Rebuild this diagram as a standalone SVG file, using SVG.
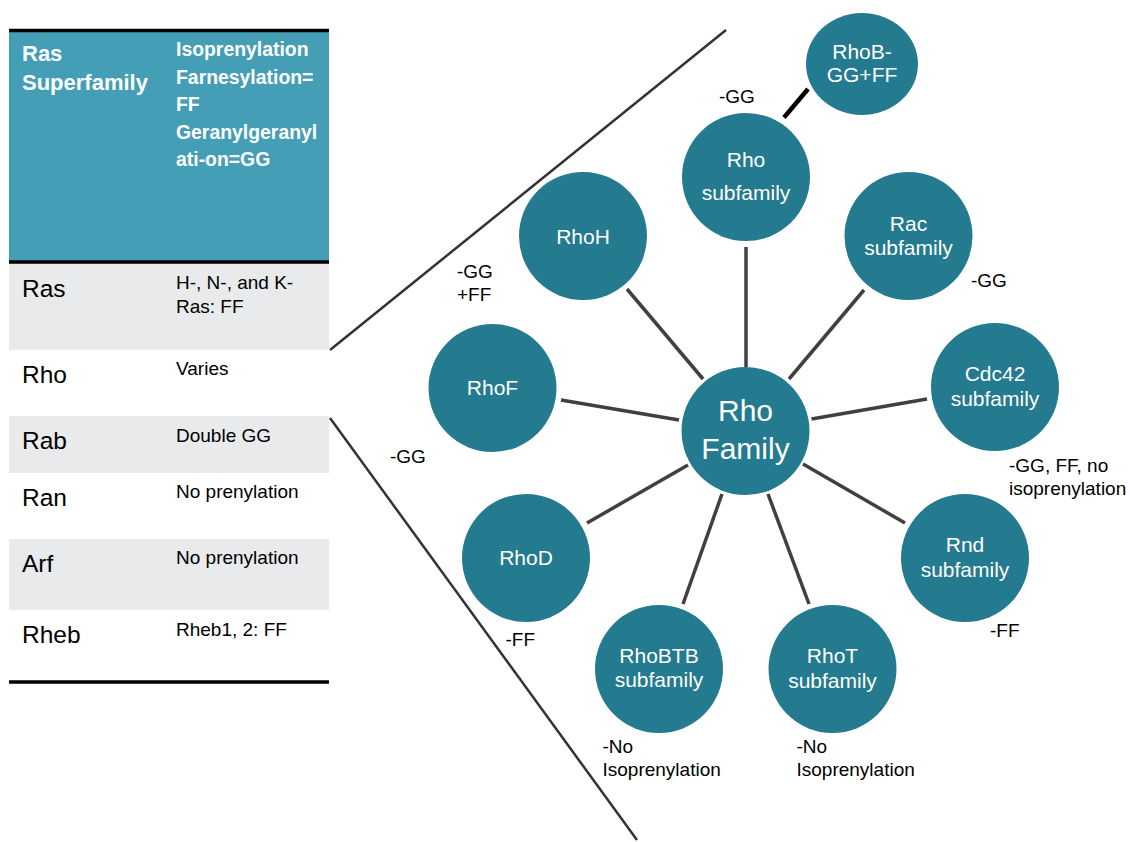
<svg xmlns="http://www.w3.org/2000/svg" width="1130" height="842" viewBox="0 0 1130 842">
  <style>
    .hd { font-family: "Liberation Sans", Arial, sans-serif; font-weight: bold; fill: #ffffff; }
    .hd1 { font-size: 22px; }
    .hd2 { font-size: 19.4px; }
    .rowname { font-family: "Liberation Sans", Arial, sans-serif; font-size: 24.5px; fill: #000000; }
    .rowval { font-family: "Liberation Sans", Arial, sans-serif; font-size: 19px; fill: #000000; }
    .node circle, .node ellipse { fill: #247A8E; }
    .node text { font-family: "Liberation Sans", Arial, sans-serif; font-size: 21px; fill: #ffffff; text-anchor: middle; }
    .node text.big { font-size: 30px; }
    .lbl { font-family: "Liberation Sans", Arial, sans-serif; font-size: 19px; fill: #000000; }
    .conn line { stroke: #404040; stroke-width: 3.5; }
    .conn line.thick { stroke: #000000; stroke-width: 4.5; }
    .rule { stroke: #000000; stroke-width: 3.5; }
    .wedge { stroke: #333333; stroke-width: 2.5; }
  </style>

  <!-- Ras superfamily table -->
  <g id="table">
    <rect x="9" y="31" width="320" height="231" fill="#449EB6"/>
    <rect x="9" y="263" width="320" height="87" fill="#E9EAEC"/>
    <rect x="9" y="416" width="320" height="57" fill="#E9EAEC"/>
    <rect x="9" y="539" width="320" height="71" fill="#E9EAEC"/>
    <line class="rule" x1="9" y1="30.5" x2="329" y2="30.5"/>
    <line class="rule" x1="9" y1="262" x2="329" y2="262"/>
    <line class="rule" x1="9" y1="682" x2="329" y2="682"/>

    <text class="hd hd1" x="22" y="61">Ras</text>
    <text class="hd hd1" x="22" y="90">Superfamily</text>
    <text class="hd hd2" x="176" y="56">Isoprenylation</text>
    <text class="hd hd2" x="176" y="83.5">Farnesylation=</text>
    <text class="hd hd2" x="176" y="111">FF</text>
    <text class="hd hd2" x="176" y="138.5">Geranylgeranyl</text>
    <text class="hd hd2" x="176" y="166">ati-on=GG</text>

    <text class="rowname" x="22" y="297">Ras</text>
    <text class="rowval" x="176" y="289">H-, N-, and K-</text>
    <text class="rowval" x="176" y="313">Ras: FF</text>

    <text class="rowname" x="22" y="383">Rho</text>
    <text class="rowval" x="176" y="375">Varies</text>

    <text class="rowname" x="22" y="449">Rab</text>
    <text class="rowval" x="176" y="442">Double GG</text>

    <text class="rowname" x="22" y="506">Ran</text>
    <text class="rowval" x="176" y="498">No prenylation</text>

    <text class="rowname" x="22" y="572">Arf</text>
    <text class="rowval" x="176" y="564">No prenylation</text>

    <text class="rowname" x="22" y="643">Rheb</text>
    <text class="rowval" x="176" y="636">Rheb1, 2: FF</text>
  </g>

  <!-- expansion wedge from the Rho row -->
  <g id="wedge">
    <line class="wedge" x1="330" y1="350" x2="726" y2="30"/>
    <line class="wedge" x1="330" y1="418" x2="637" y2="840"/>
  </g>

  <!-- spokes -->
  <g id="connectors" class="conn">
    <line x1="746" y1="247" x2="746" y2="367"/>
    <line x1="864" y1="290" x2="789" y2="379"/>
    <line x1="811.5" y1="419" x2="927" y2="399"/>
    <line x1="803" y1="464" x2="905" y2="523"/>
    <line x1="768" y1="494" x2="809" y2="604"/>
    <line x1="722" y1="494" x2="683" y2="604"/>
    <line x1="688" y1="465" x2="587" y2="523"/>
    <line x1="679" y1="420" x2="561" y2="400"/>
    <line x1="627" y1="289" x2="703" y2="379"/>
    <line class="thick" x1="784" y1="117.5" x2="808" y2="89"/>
  </g>

  <!-- nodes -->
  <g id="rho-family" class="node">
    <circle cx="745.5" cy="431" r="64"/>
    <text class="big" x="745.5" y="421">Rho</text>
    <text class="big" x="745.5" y="459">Family</text>
  </g>
  <g id="rho-subfamily" class="node">
    <circle cx="746" cy="177" r="64"/>
    <text x="746" y="167">Rho</text>
    <text x="746" y="200">subfamily</text>
  </g>
  <g id="rhob" class="node">
    <ellipse cx="862" cy="64" rx="56" ry="51"/>
    <text x="862" y="59">RhoB-</text>
    <text x="862" y="82">GG+FF</text>
  </g>
  <g id="rac-subfamily" class="node">
    <circle cx="908.5" cy="236" r="64"/>
    <text x="908.5" y="231">Rac</text>
    <text x="908.5" y="255">subfamily</text>
  </g>
  <g id="cdc42-subfamily" class="node">
    <circle cx="995" cy="387" r="64"/>
    <text x="995" y="381">Cdc42</text>
    <text x="995" y="405.5">subfamily</text>
  </g>
  <g id="rnd-subfamily" class="node">
    <circle cx="965" cy="558" r="64"/>
    <text x="965" y="552">Rnd</text>
    <text x="965" y="576.5">subfamily</text>
  </g>
  <g id="rhot-subfamily" class="node">
    <circle cx="832.5" cy="669" r="64"/>
    <text x="832.5" y="662.5">RhoT</text>
    <text x="832.5" y="687.5">subfamily</text>
  </g>
  <g id="rhobtb-subfamily" class="node">
    <circle cx="659" cy="669" r="64"/>
    <text x="659" y="662.5">RhoBTB</text>
    <text x="659" y="686.5">subfamily</text>
  </g>
  <g id="rhod" class="node">
    <circle cx="526" cy="558" r="64"/>
    <text x="526" y="564.5">RhoD</text>
  </g>
  <g id="rhof" class="node">
    <circle cx="492.5" cy="388" r="64"/>
    <text x="492.5" y="394.5">RhoF</text>
  </g>
  <g id="rhoh" class="node">
    <circle cx="583" cy="236" r="64"/>
    <text x="583" y="243.5">RhoH</text>
  </g>

  <!-- prenylation notes -->
  <g id="labels">
    <text class="lbl" x="719" y="103">-GG</text>
    <text class="lbl" x="971" y="287">-GG</text>
    <text class="lbl" x="457" y="277.5">-GG</text>
    <text class="lbl" x="457" y="301">+FF</text>
    <text class="lbl" x="390" y="462.5">-GG</text>
    <text class="lbl" x="1009" y="472">-GG, FF, no</text>
    <text class="lbl" x="1009" y="495">isoprenylation</text>
    <text class="lbl" x="990" y="637">-FF</text>
    <text class="lbl" x="505.5" y="646">-FF</text>
    <text class="lbl" x="602.5" y="752.5">-No</text>
    <text class="lbl" x="602.5" y="776">Isoprenylation</text>
    <text class="lbl" x="796.5" y="752.5">-No</text>
    <text class="lbl" x="796.5" y="776">Isoprenylation</text>
  </g>
</svg>
